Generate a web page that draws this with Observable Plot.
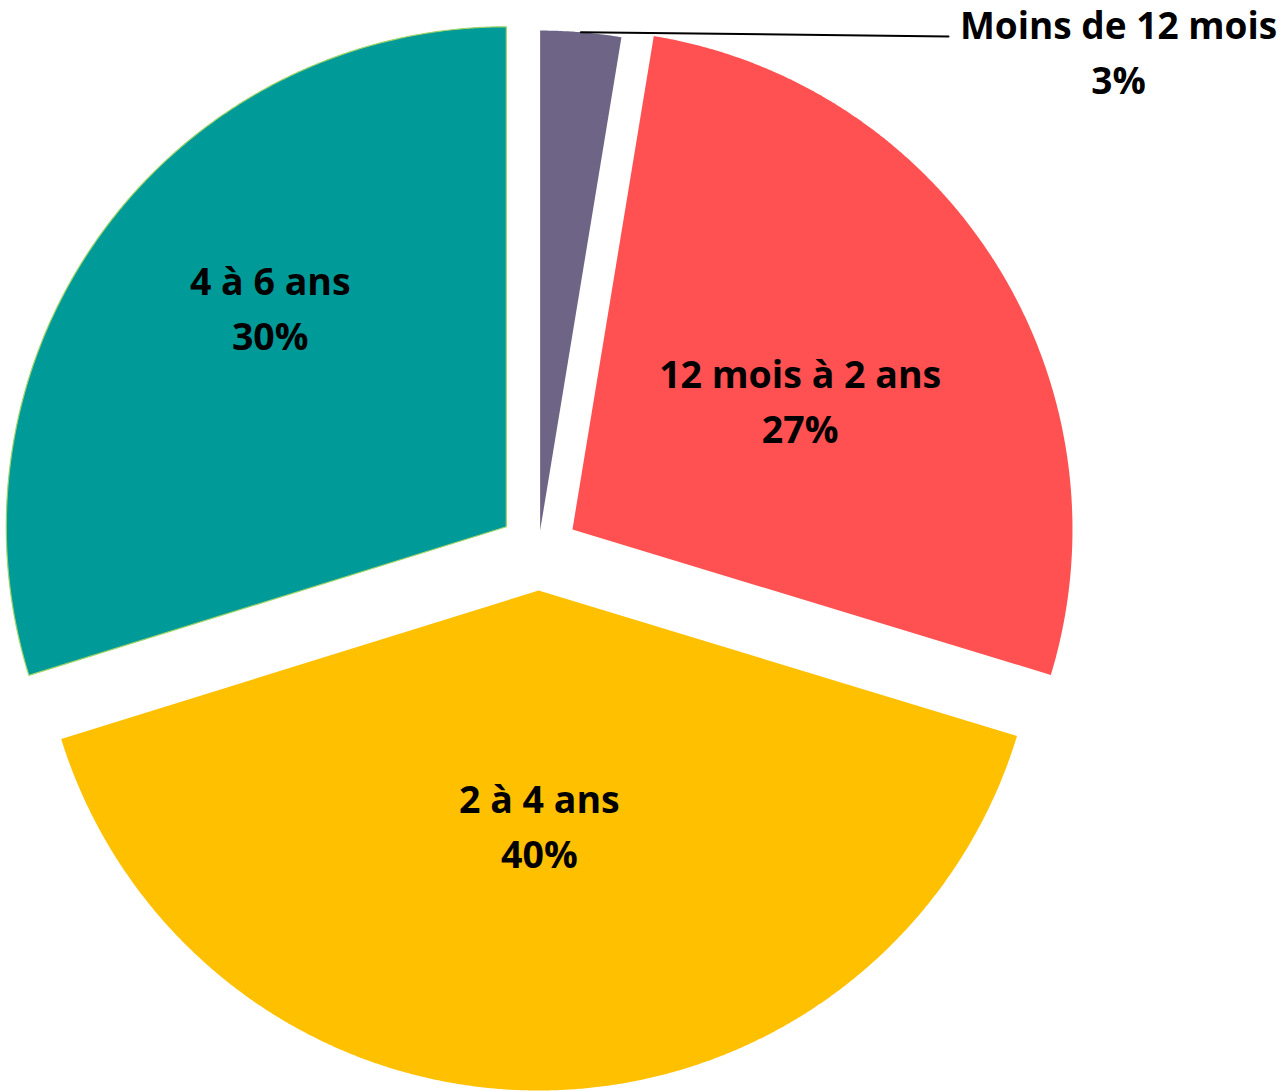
<!DOCTYPE html>
<html>
<head>
<meta charset="utf-8">
<script src="https://cdn.jsdelivr.net/npm/d3@7"></script>
<script src="https://cdn.jsdelivr.net/npm/@observablehq/plot@0.6"></script>
<style>
  html, body { margin: 0; padding: 0; background: #ffffff; overflow: hidden; }
  #chart svg { display: block; }
</style>
</head>
<body>
<div id="chart"></div>
<script>
// ---- Data ----
const categories = ["Moins de 12 mois", "12 mois à 2 ans", "2 à 4 ans", "4 à 6 ans"];
const shares = [2.6, 27.1, 40.5, 29.8];
const pctLabels = ["3%", "27%", "40%", "30%"];
const colors = ["#6E6586", "#FF5151", "#FFC000", "#009A98"];

// ---- Layout / style (not data) ----
const explode = [0.04, 0.08, 0.08, 0.08];     // slice offset, in radius units
const labelDist = [null, 0.522, 0.472, 0.643]; // inside-label distance from slice apex
const labelTurn = [0, 2.6, 0, 6.4];            // degrees added to mid-angle for label
const outsideLabel = {x: 1.16, y: 1.003};      // callout text anchor (radius units)
const leaderEnd = {x: 0.82, y: 1.028};
const FONT = "'Open Sans', 'Noto Sans', sans-serif";

const pie = d3.pie().sort(null).value(d => d)(shares);
const rad = Math.PI / 180;

const slices = pie.map((p, i) => {
  const mid = (p.startAngle + p.endAngle) / 2;
  const ox = explode[i] * Math.sin(mid), oy = explode[i] * Math.cos(mid);
  const pts = [{x: ox, y: oy}];
  const n = Math.max(8, Math.ceil((p.endAngle - p.startAngle) / (0.25 * rad)));
  for (let k = 0; k <= n; k++) {
    const a = p.startAngle + (p.endAngle - p.startAngle) * k / n;
    pts.push({x: ox + Math.sin(a), y: oy + Math.cos(a)});
  }
  pts.push({x: ox, y: oy});
  let lx = null, ly = null;
  if (labelDist[i] != null) {
    const la = mid + labelTurn[i] * rad;
    lx = ox + labelDist[i] * Math.sin(la);
    ly = oy + labelDist[i] * Math.cos(la);
  }
  return {i, category: categories[i], pct: pctLabels[i], color: colors[i], pts, mid, ox, oy, lx, ly};
});

const inside = slices.filter(s => s.lx != null).map(s => ({x: s.lx, y: s.ly, text: s.category + "\n" + s.pct}));
const small = slices[0];
const leader = [
  {x: small.ox + Math.sin(small.mid), y: small.oy + Math.cos(small.mid)},
  leaderEnd
];
const callout = [{x: outsideLabel.x, y: outsideLabel.y, text: small.category + "\n" + small.pct}];

const W = 1287, H = 1091, CX = 538, CY = 550, RPX = 500;

const chart = Plot.plot({
  width: W,
  height: H,
  margin: 0,
  x: {domain: [-CX / RPX, (W - CX) / RPX], axis: null},
  y: {domain: [-(H - CY) / RPX, CY / RPX], axis: null},
  style: {background: "#ffffff"},
  marks: [
    ...slices.map(s => Plot.line(s.pts, {
      x: "x", y: "y",
      fill: s.color,
      stroke: s.i === 3 ? "#9ED46A" : "none",
      strokeWidth: 1.2,
      curve: "linear"
    })),
    Plot.line(leader, {x: "x", y: "y", stroke: "#000000", strokeWidth: 2}),
    Plot.text(inside, {
      x: "x", y: "y", text: "text", dy: -4,
      fontSize: 37.5, fontWeight: "bold", fontFamily: FONT,
      fill: "#000000", lineHeight: 1.47, textAnchor: "middle", lineAnchor: "middle"
    }),
    Plot.text(callout, {
      x: "x", y: "y", text: "text",
      fontSize: 37, fontWeight: "bold", fontFamily: FONT,
      fill: "#000000", lineHeight: 1.47, textAnchor: "middle", lineAnchor: "middle"
    })
  ]
});
document.getElementById("chart").appendChild(chart);
</script>
</body>
</html>
